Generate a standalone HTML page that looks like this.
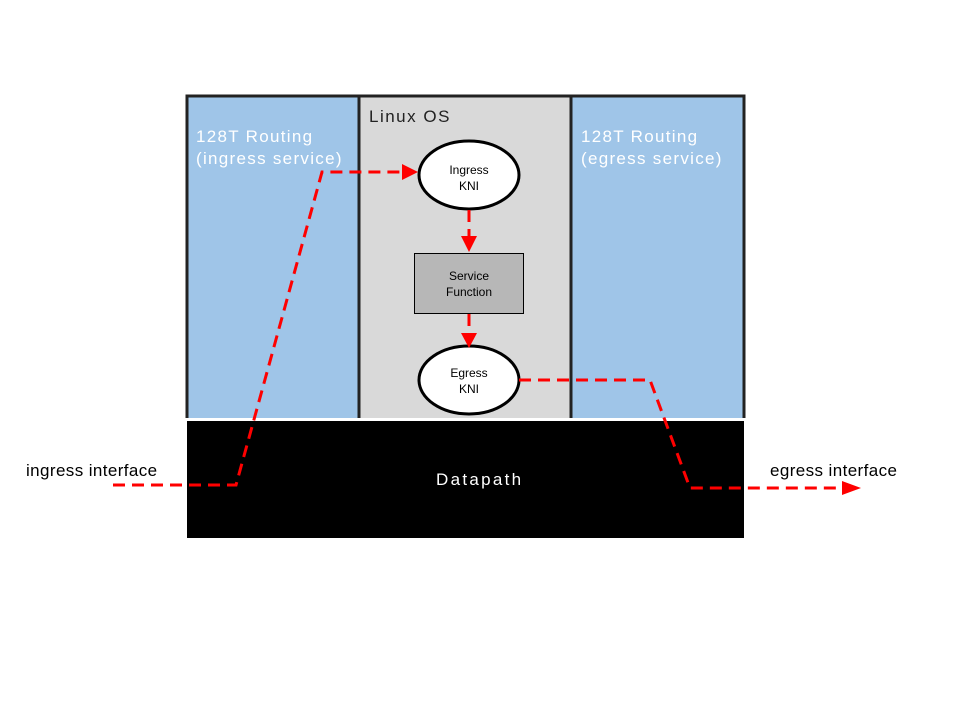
<!DOCTYPE html>
<html><head><style>body{margin:0;background:#fff}svg{display:block}</style></head><body>
<svg width="960" height="720" viewBox="0 0 960 720" xmlns="http://www.w3.org/2000/svg">
<rect x="0" y="0" width="960" height="720" fill="#fff"/>
<rect x="187" y="96" width="172" height="322" fill="#9fc5e8"/>
<rect x="359" y="96" width="212" height="322" fill="#d9d9d9"/>
<rect x="571" y="96" width="173" height="322" fill="#9fc5e8"/>
<path d="M187 418 V96 H744 V418 M359 96 V418 M571 96 V418" fill="none" stroke="#222" stroke-width="3"/>
<rect x="187" y="421" width="557" height="117" fill="#000"/>
<text x="436" y="485" fill="#fff" font-family="Liberation Sans, sans-serif" font-size="17" letter-spacing="2.3">Datapath</text>
<g font-family="Liberation Sans, sans-serif" font-size="17" fill="#fff" letter-spacing="1.3">
<text x="196" y="142">128T Routing</text><text x="196" y="164">(ingress service)</text>
<text x="581" y="142">128T Routing</text><text x="581" y="164">(egress service)</text>
</g>
<text x="369" y="122" fill="#222" font-family="Liberation Sans, sans-serif" font-size="17" letter-spacing="1.5">Linux OS</text>
<ellipse cx="469" cy="175" rx="50" ry="34" fill="#fff" stroke="#000" stroke-width="3"/>
<ellipse cx="469" cy="380" rx="50" ry="34" fill="#fff" stroke="#000" stroke-width="3"/>
<rect x="414.5" y="253.5" width="109" height="60" fill="#b7b7b7" stroke="#000"/>
<g font-family="Liberation Sans, sans-serif" font-size="12" fill="#000" text-anchor="middle">
<text x="469" y="174">Ingress</text><text x="469" y="190">KNI</text>
<text x="469" y="280">Service</text><text x="469" y="296">Function</text>
<text x="469" y="377">Egress</text><text x="469" y="393">KNI</text>
</g>
<g font-family="Liberation Sans, sans-serif" font-size="17" fill="#000" letter-spacing="0.4">
<text x="26" y="476">ingress interface</text><text x="770" y="476">egress interface</text>
</g>
<g fill="none" stroke="#f00" stroke-width="3" stroke-dasharray="12,7">
<path d="M113 485 H236 L322 172 H404"/>
<path d="M469 210 V238"/>
<path d="M469 314 V336"/>
<path d="M519 380 H650 L690 488 H845"/>
</g>
<g fill="#f00">
<polygon points="402,164 418,172 402,180"/>
<polygon points="461,236 469,252 477,236"/>
<polygon points="461,333 469,348 477,333"/>
<polygon points="842,481 861,488 842,495"/>
</g>
</svg>
</body></html>
